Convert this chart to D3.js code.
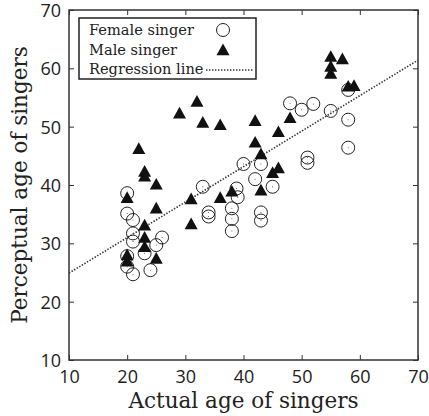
<!DOCTYPE html>
<meta charset="utf-8" />
<script src="https://d3js.org/d3.v7.min.js"></script>
<style>
  body { margin: 0; background: #fff; }
  .tick text { font-family: "Open Sans", sans-serif; font-size: 18px; fill: #222; }
  .serif { font-family: "DejaVu Serif", serif; fill: #222; }
</style>
<div id="chart"></div>
<script>
// actual age vs perceived age
var femaleActual = [20, 20, 21, 21, 21, 20, 20, 21, 23, 24, 25, 26,
  33, 34, 34, 38, 38, 38, 38.8, 39, 40, 42, 43, 43, 43, 45,
  48, 50, 52, 51, 51, 55, 58, 58, 58];
var femalePerceived = [38.6, 35.1, 34.0, 31.7, 30.3, 27.8, 26.0, 24.7, 28.3, 25.4, 29.7, 31.0,
  39.7, 35.3, 34.6, 36.0, 34.2, 32.1, 39.4, 37.9, 43.6, 41.0, 43.6, 35.3, 33.9, 39.7,
  54.0, 52.9, 53.9, 44.7, 43.8, 52.7, 56.3, 51.2, 46.4];

var maleActual = [22, 23, 23, 25, 20, 25, 23, 23, 23, 25, 20, 20,
  29, 32, 33, 36, 31, 31, 36, 38, 42, 42, 43, 43, 45, 46, 46, 48,
  55, 57, 55, 55, 58, 59];
var malePerceived = [46.2, 42.3, 41.5, 40.1, 37.8, 36.0, 33.1, 31.0, 29.4, 27.4, 28.0, 26.9,
  52.3, 54.3, 50.7, 50.3, 37.6, 33.3, 37.8, 38.9, 51.0, 47.3, 45.3, 39.1, 42.1, 42.9, 49.1, 51.5,
  62.0, 61.6, 60.3, 59.1, 56.9, 57.0];

// regression line end points
var regX = [10, 70];
var regY = [24.9, 61.4];

var xTicks = [10, 20, 30, 40, 50, 60, 70];
var yTicks = [10, 20, 30, 40, 50, 60, 70];

var legendLabels = ["Female singer", "Male singer", "Regression line"];

var margin = { top: 10, right: 11, bottom: 56, left: 69 },
  width = 429 - margin.left - margin.right,
  height = 416 - margin.top - margin.bottom;

var svgRoot = d3.select("#chart").append("svg")
  .attr("width", 429).attr("height", 416);
var svg = svgRoot.append("g")
  .attr("transform", "translate(" + margin.left + "," + margin.top + ")");

var x = d3.scaleLinear().domain([10, 70]).range([0, width]);
var y = d3.scaleLinear().domain([10, 70]).range([height, 0]);

// axes with inward ticks on all four sides
var xAxis = svg.append("g").attr("transform", "translate(0," + height + ")")
  .call(d3.axisBottom(x).tickValues(xTicks).tickSize(-5).tickPadding(8).tickSizeOuter(0));
var yAxis = svg.append("g")
  .call(d3.axisLeft(y).tickValues(yTicks).tickSize(-5).tickPadding(8).tickSizeOuter(0));
svg.append("g")
  .call(d3.axisTop(x).tickValues(xTicks).tickSize(-5).tickFormat("").tickSizeOuter(0));
svg.append("g").attr("transform", "translate(" + width + ",0)")
  .call(d3.axisRight(y).tickValues(yTicks).tickSize(-5).tickFormat("").tickSizeOuter(0));
svg.selectAll(".domain").remove();
svg.selectAll(".tick line").attr("stroke", "#333").attr("stroke-width", 1);
xAxis.selectAll(".tick text").attr("dy", "0.85em");
yAxis.selectAll(".tick text").attr("dy", "0.36em");

svg.append("rect")
  .attr("width", width).attr("height", height)
  .attr("fill", "none").attr("stroke", "#333").attr("stroke-width", 1.5);

svg.append("clipPath").attr("id", "clip").append("rect")
  .attr("width", width).attr("height", height);

// regression line
svg.append("line")
  .attr("clip-path", "url(#clip)")
  .attr("x1", x(regX[0])).attr("y1", y(regY[0]))
  .attr("x2", x(regX[1])).attr("y2", y(regY[1]))
  .attr("stroke", "#333").attr("stroke-width", 1.6)
  .attr("stroke-dasharray", "1.4,1.6");

var tri = function (cx, cy) {
  var s = 6.5;
  return "M" + cx + "," + (cy - s) + "L" + (cx + s) + "," + (cy + s * 0.8) +
    "L" + (cx - s) + "," + (cy + s * 0.8) + "Z";
};

// female singers: open circles with a tiny centre dot
var fem = svg.append("g").selectAll("g")
  .data(femaleActual.map(function (d, i) { return [d, femalePerceived[i]]; }))
  .enter().append("g");
fem.append("circle")
  .attr("cx", function (d) { return x(d[0]); })
  .attr("cy", function (d) { return y(d[1]); })
  .attr("r", 6.5).attr("fill", "none").attr("stroke", "#222").attr("stroke-width", 1);
fem.append("circle")
  .attr("cx", function (d) { return x(d[0]); })
  .attr("cy", function (d) { return y(d[1]); })
  .attr("r", 0.5).attr("fill", "#444");

// male singers: filled triangles
svg.append("g").selectAll("path")
  .data(maleActual.map(function (d, i) { return [d, malePerceived[i]]; }))
  .enter().append("path")
  .attr("d", function (d) { return tri(x(d[0]), y(d[1])); })
  .attr("fill", "#111");

// legend
var lg = svgRoot.append("g");
lg.append("rect")
  .attr("x", 79).attr("y", 18).attr("width", 177).attr("height", 61)
  .attr("fill", "#fff").attr("stroke", "#222").attr("stroke-width", 1.5);
lg.selectAll("text").data(legendLabels).enter().append("text")
  .attr("class", "serif")
  .attr("x", 89).attr("y", function (d, i) { return 35 + i * 19.5; })
  .attr("font-size", 14.6)
  .text(function (d) { return d; });
lg.append("circle").attr("cx", 223).attr("cy", 30).attr("r", 6.5)
  .attr("fill", "none").attr("stroke", "#222");
lg.append("path").attr("d", tri(223, 50)).attr("fill", "#111");
lg.append("line").attr("x1", 206).attr("x2", 254).attr("y1", 70).attr("y2", 70)
  .attr("stroke", "#333").attr("stroke-width", 1.6).attr("stroke-dasharray", "1.4,1.6");

// axis titles
svgRoot.append("text").attr("class", "serif")
  .attr("x", margin.left + width / 2).attr("y", 408)
  .attr("text-anchor", "middle").attr("font-size", 21.5)
  .text("Actual age of singers");
svgRoot.append("text").attr("class", "serif")
  .attr("transform", "translate(27," + (margin.top + height / 2) + ") rotate(-90)")
  .attr("text-anchor", "middle").attr("font-size", 21.5)
  .text("Perceptual age of singers");
</script>
